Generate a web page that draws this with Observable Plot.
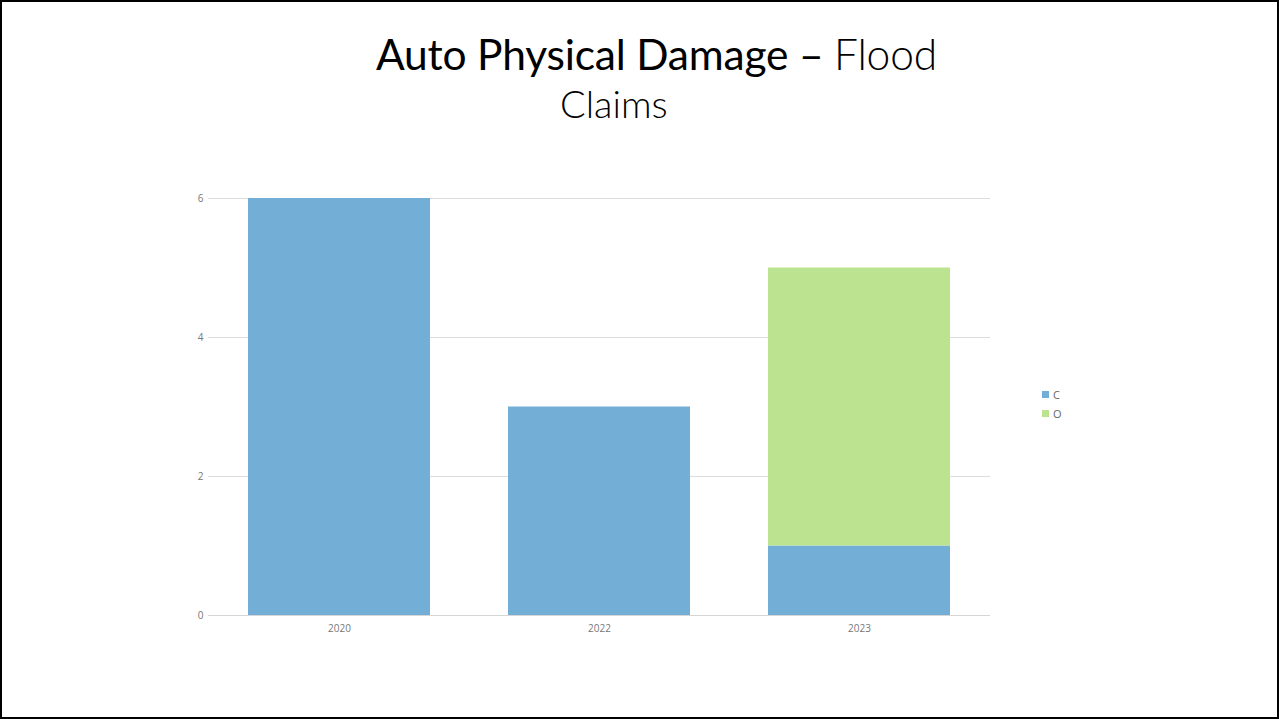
<!DOCTYPE html>
<html><head><meta charset="utf-8">
<script src="https://cdn.jsdelivr.net/npm/d3@7"></script>
<script src="https://cdn.jsdelivr.net/npm/@observablehq/plot@0.6"></script>
<style>
html,body{margin:0;padding:0;background:#fff;}
#page{position:relative;width:1279px;height:719px;overflow:hidden;font-family:Lato,"Open Sans",sans-serif;}
#frame{position:absolute;left:0;top:0;width:1279px;height:719px;box-sizing:border-box;border:2px solid #000;pointer-events:none;}
#title{position:absolute;left:376px;top:28px;font-size:42.5px;color:#000;white-space:nowrap;letter-spacing:-0.2px;}
#title .light{font-weight:300;}
#sub{position:absolute;left:560px;top:80px;font-size:38px;font-weight:300;color:#000;white-space:nowrap;}
#chart{position:absolute;left:0;top:0;}
#legend{position:absolute;left:1042px;top:385px;font-size:11px;color:#666;font-family:"Open Sans",sans-serif;}
#legend div{height:19px;display:flex;align-items:center;}
#legend span.sw{display:inline-block;width:7px;height:7px;margin-right:4px;}
</style></head>
<body>
<div id="page">
  <div id="chart"></div>
  <div id="title">Auto Physical Damage – <span class="light">Flood</span></div>
  <div id="sub">Claims</div>
  <div id="legend"></div>
  <div id="frame"></div>
</div>
<script>
const years = ["2020", "2022", "2023"];
const seriesNames = ["C", "O"];
const seriesC = [6, 3, 1];
const seriesO = [0, 0, 4];
const colors = ["#73aed6", "#bce38f"];
const yTicks = [0, 2, 4, 6];

const rows = [];
years.forEach((y, i) => {
  rows.push({year: y, series: "C", value: seriesC[i]});
  rows.push({year: y, series: "O", value: seriesO[i]});
});

const chart = Plot.plot({
  width: 1279,
  height: 719,
  marginLeft: 209,
  marginRight: 290,
  marginTop: 198,
  marginBottom: 104,
  style: {fontFamily: "'Open Sans', sans-serif", fontSize: "10px", color: "#777", background: "transparent"},
  x: {domain: years, paddingInner: 0.3, paddingOuter: 0.15, label: null, tickSize: 0, tickPadding: 9},
  y: {domain: [0, 6], ticks: yTicks, tickFormat: d3.format("d"), label: null, tickSize: 0, tickPadding: 6},
  color: {domain: seriesNames, range: colors},
  marks: [
    Plot.ruleY(yTicks, {stroke: "#dcdcdc", strokeWidth: 1, insetLeft: -1, insetRight: -1}),
    Plot.barY(rows, Plot.stackY({x: "year", y: "value", fill: "series", order: seriesNames})),
    Plot.ruleY([0], {stroke: "#d6d6d6", strokeWidth: 1, insetLeft: -1, insetRight: -1})
  ]
});
document.getElementById("chart").appendChild(chart);

const legend = document.getElementById("legend");
seriesNames.forEach((s, i) => {
  const d = document.createElement("div");
  d.innerHTML = `<span class="sw" style="background:${colors[i]}"></span>${s}`;
  legend.appendChild(d);
});
</script>
</body></html>
